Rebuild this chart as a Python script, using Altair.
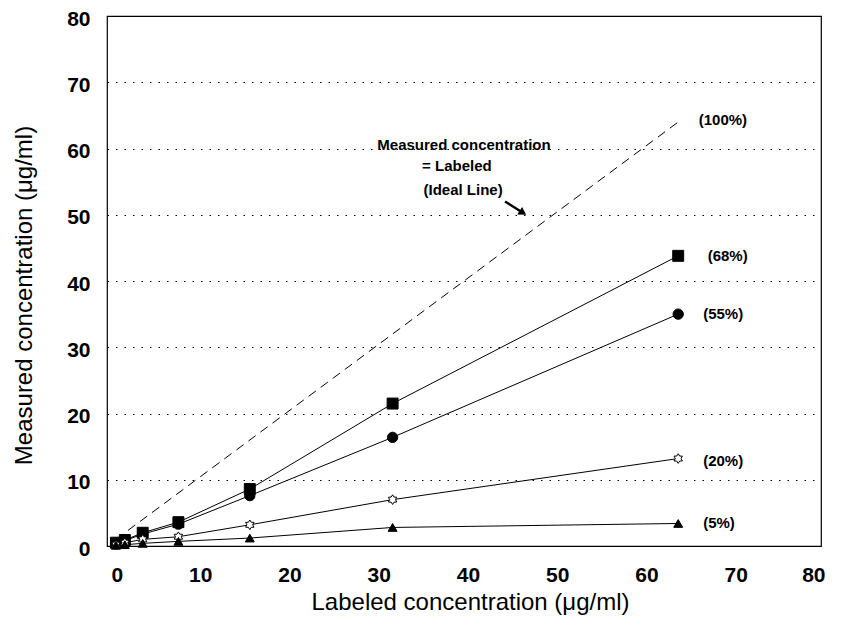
import math
import altair as alt
import pandas as pd

# ---- data ----
labeled = [1, 2, 4, 8, 16, 32, 64]
rec68 = [0.5, 0.9, 2.0, 3.6, 8.6, 21.5, 43.8]
rec55 = [0.4, 0.8, 1.8, 3.3, 7.6, 16.4, 35.0]
rec20 = [0.2, 0.5, 1.0, 1.4, 3.2, 7.0, 13.2]
rec5 = [0.1, 0.2, 0.4, 0.7, 1.2, 2.8, 3.4]
series_names = ["68%", "55%", "20%", "5%"]

ideal_x = [1, 64]
ideal_y = [1, 64]

end_labels = ["(100%)", "(68%)", "(55%)", "(20%)", "(5%)"]
end_label_x = [66.3, 67.3, 66.8, 66.8, 66.8]
end_label_y = [64.3, 43.8, 35.0, 12.9, 3.4]

note_lines = ["Measured concentration", "= Labeled", "(Ideal Line)"]
note_x = [40.0, 39.2, 39.9]
note_y = [60.6, 57.3, 53.8]

arrow_x = [44.6, 46.6]
arrow_y = [52.0, 50.3]

ticks = [0, 10, 20, 30, 40, 50, 60, 70, 80]

# ---- frames ----
rows = []
for name, vals in zip(series_names, [rec68, rec55, rec20, rec5]):
    for xv, yv in zip(labeled, vals):
        rows.append({"series": name, "x": xv, "y": yv})
df = pd.DataFrame(rows)
ideal_df = pd.DataFrame({"x": ideal_x, "y": ideal_y})
lab_df = pd.DataFrame({"t": end_labels, "x": end_label_x, "y": end_label_y})
note_df = pd.DataFrame({"t": note_lines, "x": note_x, "y": note_y})
arrow_df = pd.DataFrame({"x": [arrow_x[0]], "y": [arrow_y[0]], "x2": [arrow_x[1]], "y2": [arrow_y[1]]})
head_df = pd.DataFrame({"x": [arrow_x[1]], "y": [arrow_y[1]]})

# six-pointed star symbol (style only)
pts = []
for i in range(12):
    r = 1.0 if i % 2 == 0 else 0.6
    a = math.pi / 2 + i * math.pi / 6
    pts.append(f"{r*math.cos(a):.3f},{-r*math.sin(a):.3f}")
star_path = "M" + "L".join(pts) + "Z"

xs = alt.Scale(domain=[0, 80], nice=False)
ys = alt.Scale(domain=[0, 80], nice=False)

X = alt.X("x:Q", scale=xs, title="Labeled concentration (\u03bcg/ml)",
          axis=alt.Axis(values=ticks, grid=False, ticks=False, domain=False,
                        labelPadding=18, labelOffset=4, titlePadding=5, titleX=363))
Y = alt.Y("y:Q", scale=ys, title="Measured concentration (\u03bcg/ml)",
          axis=alt.Axis(values=ticks, grid=True, ticks=False, domain=False,
                        gridDash=[1.5, 7], gridColor="black", gridWidth=1.2,
                        labelPadding=17, labelOffset=3, titlePadding=30, titleY=279))

ideal = alt.Chart(ideal_df).mark_line(color="black", strokeDash=[9, 6], strokeWidth=1).encode(x=X, y=Y)

lines = alt.Chart(df).mark_line(color="black", strokeWidth=1).encode(
    x=X, y=Y, detail="series:N", order="x:Q")

points = alt.Chart(df).mark_point(filled=False, stroke="black", strokeWidth=1, opacity=1).encode(
    x=X, y=Y,
    shape=alt.Shape("series:N", scale=alt.Scale(domain=series_names,
                    range=["square", "circle", star_path, "triangle-up"]), legend=None),
    fill=alt.Fill("series:N", scale=alt.Scale(domain=series_names,
                  range=["black", "black", "white", "black"]), legend=None),
    size=alt.Size("series:N", scale=alt.Scale(domain=series_names,
                  range=[120, 80, 100, 140]), legend=None),
)

labels = alt.Chart(lab_df).mark_text(align="left", baseline="middle", fontSize=15,
                                     fontWeight="bold", font="Liberation Sans", color="black").encode(
    x=X, y=Y, text="t:N")

notes = alt.Chart(note_df).mark_text(align="center", baseline="middle", fontSize=15,
                                     fontWeight="bold", font="Liberation Sans", color="black").encode(
    x=X, y=Y, text="t:N")

arrow = alt.Chart(arrow_df).mark_rule(color="black", strokeWidth=2.5).encode(
    x=X, y=Y, x2="x2:Q", y2="y2:Q")
head = alt.Chart(head_df).mark_point(shape="triangle-right", filled=True, color="black",
                                     size=80, angle=33, opacity=1).encode(x=X, y=Y)

chart = alt.layer(ideal, lines, points, labels, notes, arrow, head).properties(
    width=714, height=530,
    autosize=alt.AutoSizeParams(type="none"),
    padding={"left": 99, "top": 8, "right": 13, "bottom": 72},
).configure_view(stroke="black", strokeWidth=1.2).configure_axis(
    labelFont="Liberation Sans", titleFont="Liberation Sans",
    labelFontSize=21, titleFontSize=24, labelFontWeight="bold", titleFontWeight="normal",
    labelColor="black", titleColor="black",
)

chart.save("out.html", embed_options={"renderer": "svg", "actions": False})
